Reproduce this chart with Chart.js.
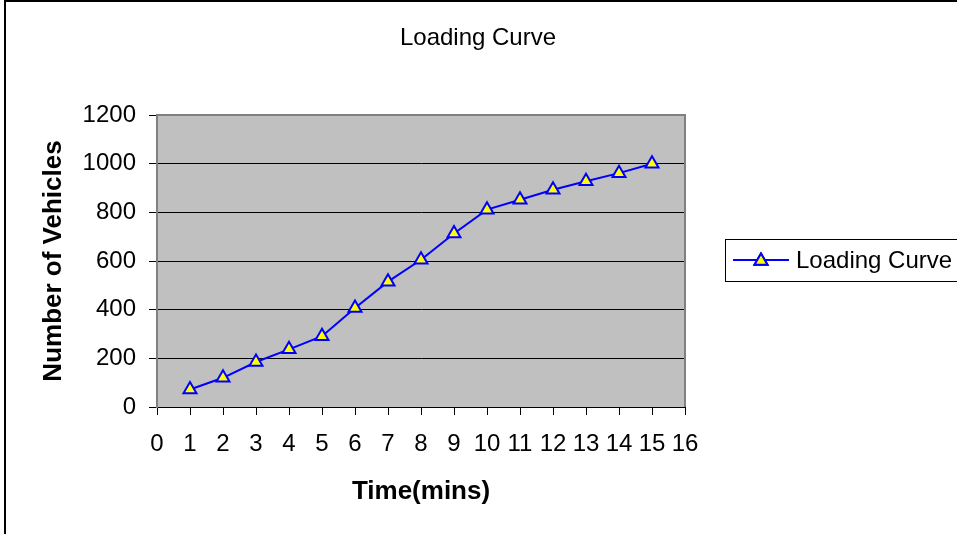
<!DOCTYPE html>
<html>
<head>
<meta charset="utf-8">
<script src="https://cdn.jsdelivr.net/npm/chart.js@4.4.1/dist/chart.umd.min.js"></script>
<style>
  body { margin: 0; background: #fff; }
  canvas { display: block; }
</style>
</head>
<body>
<canvas id="chart" width="957" height="534"></canvas>
<script>
const chartTitle = 'Loading Curve';
const seriesLabel = 'Loading Curve';
const minutes = [1, 2, 3, 4, 5, 6, 7, 8, 9, 10, 11, 12, 13, 14, 15];
const vehicles = [72, 120, 185, 237, 291, 407, 515, 605, 713, 811, 852, 893, 928, 961, 1000];
const xTicks = [0, 1, 2, 3, 4, 5, 6, 7, 8, 9, 10, 11, 12, 13, 14, 15, 16];
const yTicks = [0, 200, 400, 600, 800, 1000, 1200];

const FONT = "'Liberation Sans', Arial, sans-serif";

// plot background, outer frame, title and legend box
const decor = {
    id: 'decor',
    beforeDraw(chart) {
        const { ctx, chartArea: a } = chart;
        ctx.save();
        ctx.fillStyle = '#fff';
        ctx.fillRect(0, 0, chart.width, chart.height);
        ctx.fillStyle = '#c0c0c0';
        ctx.fillRect(a.left, a.top, a.right - a.left, a.bottom - a.top);
        ctx.restore();
    },
    beforeDatasetsDraw(chart) {
        const { ctx, chartArea: a } = chart;
        ctx.save();
        ctx.strokeStyle = '#808080';
        ctx.lineWidth = 2;
        ctx.beginPath();
        ctx.moveTo(a.left, a.top);
        ctx.lineTo(a.right, a.top);
        ctx.lineTo(a.right, a.bottom);
        ctx.stroke();
        ctx.restore();
    },
    afterDraw(chart) {
        const { ctx } = chart;
        const ds = chart.data.datasets[0];
        ctx.save();
        // outer frame
        ctx.strokeStyle = '#000';
        ctx.lineWidth = 2;
        ctx.strokeRect(5, 1, 980, 560);
        // title
        ctx.fillStyle = '#000';
        ctx.font = '24px ' + FONT;
        ctx.textAlign = 'center';
        ctx.textBaseline = 'middle';
        ctx.fillText(chartTitle, 478, 38);
        // legend
        ctx.lineWidth = 1;
        ctx.strokeRect(725.5, 239.5, 260, 42);
        ctx.strokeStyle = ds.borderColor;
        ctx.lineWidth = 2;
        ctx.beginPath();
        ctx.moveTo(733, 260);
        ctx.lineTo(789, 260);
        ctx.stroke();
        Chart.helpers.drawPoint(ctx, {
            pointStyle: 'triangle', radius: ds.pointRadius, borderWidth: ds.pointBorderWidth
        }, 761, 261);
        ctx.fillStyle = ds.pointBackgroundColor;
        ctx.fill();
        ctx.stroke();
        ctx.fillStyle = '#000';
        ctx.font = '24px ' + FONT;
        ctx.textAlign = 'left';
        ctx.fillText(ds.label, 796, 261);
        ctx.restore();
    }
};

new Chart(document.getElementById('chart'), {
    type: 'line',
    data: {
        datasets: [{
            label: seriesLabel,
            data: minutes.map((m, i) => ({ x: m, y: vehicles[i] })),
            borderColor: '#0000ff',
            borderWidth: 2,
            pointStyle: 'triangle',
            pointRadius: 7.5,
            pointBorderWidth: 2,
            pointBackgroundColor: '#ffff00',
            pointBorderColor: '#0000ff',
            tension: 0
        }]
    },
    options: {
        responsive: false,
        animation: false,
        layout: { padding: { top: 115, right: 272, left: 0, bottom: 0 } },
        plugins: { legend: { display: false }, title: { display: false }, tooltip: { enabled: false } },
        scales: {
            x: {
                type: 'linear',
                min: 0, max: 16,
                afterBuildTicks(scale) { scale.ticks = xTicks.map(v => ({ value: v })); },
                afterFit(scale) { scale.height = 127; },
                grid: { drawOnChartArea: false, color: '#000', tickLength: 8 },
                border: { color: '#000', width: 1 },
                ticks: {
                    color: '#000', font: { family: FONT, size: 24 }, padding: 15,
                    maxRotation: 0, autoSkip: false, callback: v => String(v)
                },
                title: {
                    display: true, text: 'Time(mins)', color: '#000',
                    font: { family: FONT, size: 26, weight: 'bold' },
                    padding: { top: 0, bottom: 27 }
                }
            },
            y: {
                min: 0, max: 1200,
                afterBuildTicks(scale) { scale.ticks = yTicks.map(v => ({ value: v })); },
                afterFit(scale) { scale.width = 157; },
                grid: { color: '#000', tickLength: 8 },
                border: { color: '#808080', width: 2 },
                ticks: { color: '#000', font: { family: FONT, size: 24 }, padding: 13, callback: v => String(v) },
                title: {
                    display: true, text: 'Number of Vehicles', color: '#000',
                    font: { family: FONT, size: 26, weight: 'bold' },
                    padding: { top: 38, bottom: 0 }
                }
            }
        }
    },
    plugins: [decor]
});
</script>
</body>
</html>
